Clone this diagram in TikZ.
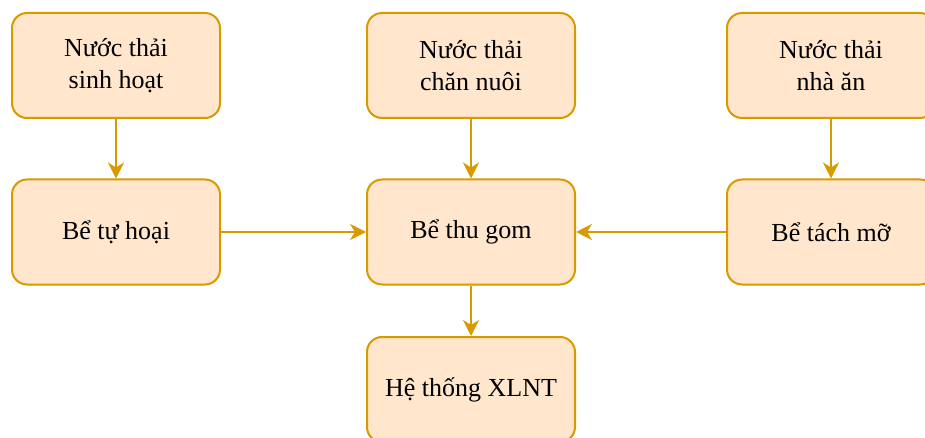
\documentclass[tikz,border=0pt]{standalone}
\usepackage{fontspec}
\setmainfont{Liberation Serif}
\usetikzlibrary{arrows.meta}
\definecolor{boxfill}{HTML}{FFE6CC}
\definecolor{boxline}{HTML}{D79B00}
\begin{document}
\begin{tikzpicture}[x=1pt,y=-1pt,
  box/.style={draw=boxline, fill=boxfill, line width=2pt, rounded corners=15pt,
    minimum width=208pt, minimum height=105pt, align=center,
    font=\fontsize{26}{32}\selectfont, inner sep=0pt},
  conn/.style={draw=boxline, line width=2pt,
    -{Stealth[length=16pt,width=16pt,inset=5pt]}}]
\useasboundingbox (0,0) rectangle (925,438);
\clip (0,0) rectangle (925,438);
\node[box] (lt) at (116,65.5) {Nước thải\\sinh hoạt};
\node[box] (ct) at (471,65.5) {Nước thải\\chăn nuôi};
\node[box] (rt) at (831,65.5) {Nước thải\\nhà ăn};
\node[box] (lm) at (116,232) {Bể tự hoại};
\node[box] (cm) at (471,232) {Bể thu gom};
\node[box] (rm) at (831,232) {Bể tách mỡ};
\node[box] (bt) at (471,389.5) {Hệ thống XLNT};
\draw[conn] (lt) -- (lm);
\draw[conn] (ct) -- (cm);
\draw[conn] (rt) -- (rm);
\draw[conn] (lm) -- (cm);
\draw[conn] (rm) -- (cm);
\draw[conn] (cm) -- (bt);
\end{tikzpicture}
\end{document}
